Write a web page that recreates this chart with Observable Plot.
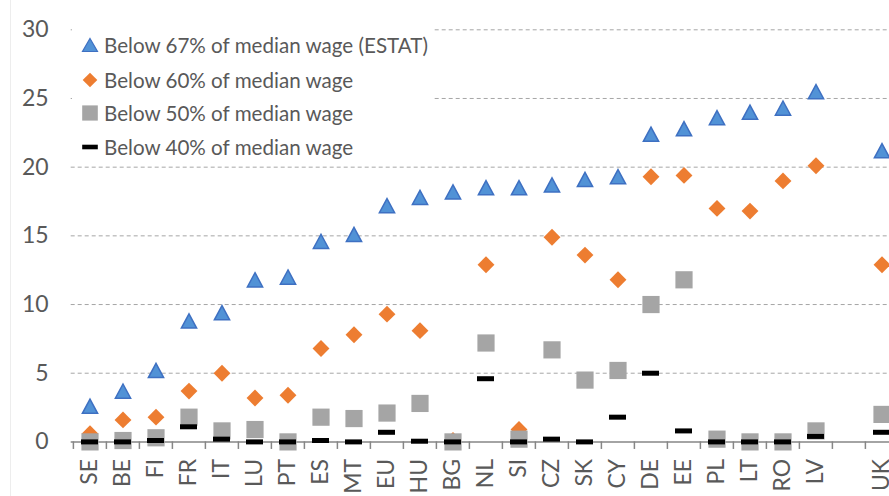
<!DOCTYPE html>
<html>
<head>
<meta charset="utf-8">
<script src="https://cdn.jsdelivr.net/npm/d3@7"></script>
<script src="https://cdn.jsdelivr.net/npm/@observablehq/plot@0.6"></script>
<style>
  html, body { margin: 0; padding: 0; background: #fff; }
  #wrap { position: relative; width: 889px; height: 496px; overflow: hidden; font-family: Lato, "Open Sans", sans-serif; }
  #edge { position: absolute; left: 10px; top: 0; width: 1px; height: 496px; background: #ededed; }
  #legend { position: absolute; left: 72px; top: 26px; width: 360px; height: 136px; background: #fff; }
  .item { position: absolute; left: 0; height: 30px; display: flex; align-items: center; color: #595959; font-size: 20.6px; white-space: nowrap; }
  .item svg { width: 30px; height: 30px; flex: none; }
</style>
</head>
<body>
<div id="wrap"><div id="edge"></div><div id="chart"></div><div id="legend"></div></div>
<script>
const categories = ["SE","BE","FI","FR","IT","LU","PT","ES","MT","EU","HU","BG","NL","SI","CZ","SK","CY","DE","EE","PL","LT","RO","LV","UK"];
const below67 = [2.6,3.7,5.2,8.8,9.4,11.8,12.0,14.6,15.1,17.2,17.8,18.2,18.5,18.5,18.7,19.1,19.3,22.4,22.8,23.6,24.0,24.3,25.5,21.2];
const below60 = [0.6,1.6,1.8,3.7,5.0,3.2,3.4,6.8,7.8,9.3,8.1,0.1,12.9,0.9,14.9,13.6,11.8,19.3,19.4,17.0,16.8,19.0,20.1,12.9];
const below50 = [0.0,0.1,0.3,1.8,0.8,0.9,0.0,1.8,1.7,2.1,2.8,0.0,7.2,0.2,6.7,4.5,5.2,10.0,11.8,0.2,0.0,0.0,0.8,2.0];
const below40 = [0.0,0.0,0.1,1.1,0.2,0.0,0.0,0.1,0.0,0.7,0.05,0.0,4.6,0.0,0.2,0.0,1.8,5.0,0.8,0.0,0.0,0.0,0.4,0.7];
const seriesNames = ["Below 67% of median wage (ESTAT)","Below 60% of median wage","Below 50% of median wage","Below 40% of median wage"];
const yTicks = [0,5,10,15,20,25,30];
const gridTicks = [5,10,15,20,25,30];

// x domain with a blank spacer slot before UK
const xDomain = [...categories.slice(0, -1), " ", "UK"];

const rows = (vals) => categories.map((c, i) => ({cat: c, v: vals[i]}));

const W = 889, H = 496;
const mL = 70.7, mR = -12, mT = 29.3, mB = 54.6;
const step = (W - mR - mL) / xDomain.length;

const triangle = {
  draw(ctx, size) {
    const k = Math.sqrt(size);
    const w = k, h = k * 0.93;
    ctx.moveTo(0, -h / 2);
    ctx.lineTo(w / 2, h / 2);
    ctx.lineTo(-w / 2, h / 2);
    ctx.closePath();
  }
};

const chart = Plot.plot({
  width: W,
  height: H,
  marginLeft: mL,
  marginRight: mR,
  marginTop: mT,
  marginBottom: mB,
  style: {fontFamily: "Lato, 'Open Sans', sans-serif", background: "transparent", overflow: "visible"},
  x: {type: "band", domain: xDomain, padding: 0, axis: null, label: null},
  y: {domain: [0, 30], axis: null, label: null},
  marks: [
    Plot.ruleY(gridTicks, {stroke: "#a6a6a6", strokeWidth: 1, strokeDasharray: "4,3"}),
    Plot.ruleY([0], {stroke: "#868686", strokeWidth: 1.5}),
    Plot.ruleX(xDomain, {x: d => d, y1: 0, y2: -0.55, dx: -step / 2, stroke: "#868686", strokeWidth: 1.5}),
    Plot.axisY(yTicks, {tickSize: 0, tickPadding: 22.5, fontSize: 23, fill: "#595959", tickFormat: d => String(d), label: null}),
    Plot.axisX(categories, {tickSize: 0, tickPadding: 17, tickRotate: -90, fontSize: 23, fill: "#595959", label: null}),
    Plot.dot(rows(below67), {x: "cat", y: "v", symbol: triangle, r: 8.6, fill: "#5192d6", stroke: "#3e70c2", strokeWidth: 1.5}),
    Plot.dot(rows(below60), {x: "cat", y: "v", symbol: "diamond2", r: 7.6, fill: "#ed7d31", stroke: "none"}),
    Plot.dot(rows(below50), {x: "cat", y: "v", symbol: "square", r: 9.7, fill: "#a5a5a5", stroke: "none"}),
    Plot.tickY(rows(below40), {x: "cat", y: "v", insetLeft: 8, insetRight: 8, stroke: "#000", strokeWidth: 5, strokeLinecap: "butt"})
  ]
});
document.getElementById("chart").appendChild(chart);

// legend (HTML overlay with white background, like the reference)
const legendSymbols = [
  `<svg viewBox="-15 -15 30 30"><path d="M0,-6.5L7.5,6.5L-7.5,6.5Z" fill="#5192d6" stroke="#3e70c2" stroke-width="1.2"/></svg>`,
  `<svg viewBox="-15 -15 30 30"><path d="M0,-7.3L7.3,0L0,7.3L-7.3,0Z" fill="#ed7d31"/></svg>`,
  `<svg viewBox="-15 -15 30 30"><rect x="-7.8" y="-7.6" width="15.6" height="15.2" fill="#a5a5a5"/></svg>`,
  `<svg viewBox="-15 -15 30 30"><rect x="-7.8" y="-2.3" width="15.6" height="4.6" fill="#000"/></svg>`
];
const rowCenters = [19, 54, 87, 121];
const legend = document.getElementById("legend");
seriesNames.forEach((name, i) => {
  const d = document.createElement("div");
  d.className = "item";
  d.style.top = (rowCenters[i] - 15) + "px";
  d.style.left = "3px";
  d.innerHTML = legendSymbols[i] + `<span style="margin-left:-1px">${name}</span>`;
  legend.appendChild(d);
});
</script>
</body>
</html>
